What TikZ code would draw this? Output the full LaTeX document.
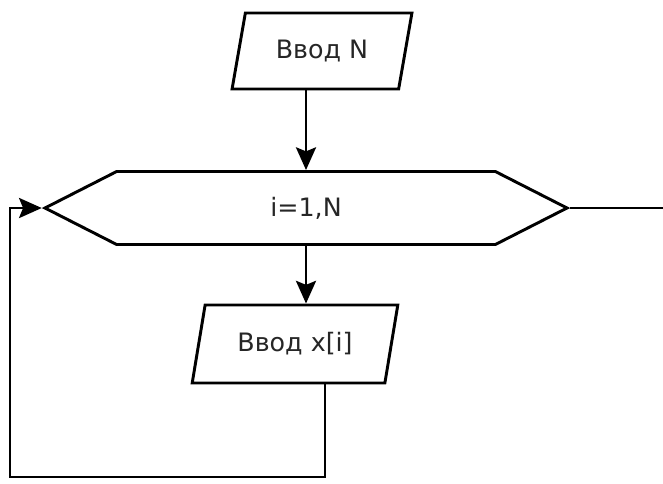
\documentclass[tikz,border=0pt]{standalone}
\usepackage{fontspec}
\setmainfont{DejaVu Sans}
\usetikzlibrary{shapes.geometric,shapes.symbols,arrows.meta}

\begin{document}
\begin{tikzpicture}[x=0.75pt, y=-0.75pt,
  e/.style={line width=2.2pt, line join=miter},
  arr/.style={e, -{Stealth[length=17pt,width=15pt,inset=3pt]}},
  txt/.style={font=\fontsize{19}{22}\selectfont, text=black!85},
  io/.style={trapezium, trapezium stretches=true, draw, e, txt, inner sep=0pt,
    trapezium left angle=70, trapezium right angle=110},
  loopbox/.style={signal, signal to=east and west, signal pointer angle=54,
    draw, e, txt, inner sep=0pt}
]
\useasboundingbox (0,0) rectangle (663,483);

% --- blocks ---
\node[io, minimum width=135pt, minimum height=57pt] (inN) at (322,51) {Ввод N};
\node[loopbox, minimum width=391.5pt, minimum height=54.75pt] (cyc) at (306,208) {i=1,N};
\node[io, minimum width=154.5pt, minimum height=58.5pt] (inX) at (295,344) {Ввод x[i]};

% --- loop return and exit ---
\coordinate (loopA) at (325,477);
\coordinate (loopB) at (10,477);
\coordinate (exit) at (663,208);

% --- connectors ---
\draw[arr] (inN.south -| cyc.north) -- (cyc.north);
\draw[arr] (cyc.south) -- (inX.north -| cyc.south);
\draw[arr] (inX.south -| loopA) -- (loopA) -- (loopB) |- (cyc.west);
\draw[e] (cyc.east) -- (exit);

\end{tikzpicture}
\end{document}
